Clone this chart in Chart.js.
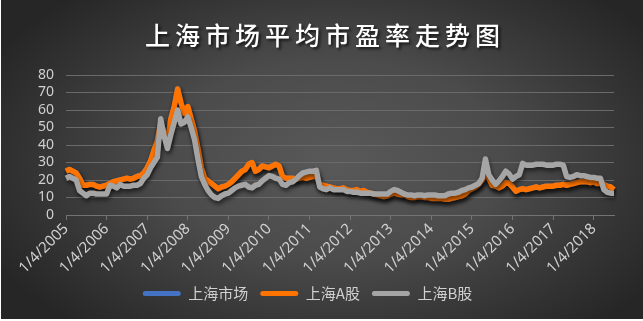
<!DOCTYPE html>
<html>
<head>
<meta charset="utf-8">
<script src="https://cdn.jsdelivr.net/npm/chart.js@4.4.1/dist/chart.umd.min.js"></script>
<style>
  html, body { margin: 0; padding: 0; background: #fff; }
  #wrap {
    position: absolute; left: 1px; top: 0; width: 642px; height: 319px;
    background: radial-gradient(ellipse 60% 70% at 52% 50%, #595959 0%, #4b4b4b 45%, #333 80%, #262626 100%);
  }
</style>
</head>
<body>
<div id="wrap"><canvas id="myChart" width="642" height="319"></canvas></div>
<script>
// year tick labels (first trading day of each year)
var yearLabels = ['1/4/2005','1/4/2006','1/4/2007','1/4/2008','1/4/2009','1/4/2010','1/4/2011',
  '1/4/2012','1/4/2013','1/4/2014','1/4/2015','1/4/2016','1/4/2017','1/4/2018'];

// monthly readings, Jan 2005 .. Jul 2018
var aSharePE = [
  25, 26, 25, 24, 21, 17, 17, 17.5, 17.5, 16.5, 16, 16.5,          // 2005
  17, 18, 19, 19.5, 20, 20.5, 21, 20.5, 21, 22, 22.5, 24,           // 2006
  27, 31, 37, 42, 53, 47, 41, 55, 62, 72, 64, 58,                   // 2007
  62, 55, 48, 38, 27, 21, 19.5, 18, 16.5, 15, 16, 16.5,             // 2008
  17.5, 19, 21, 23, 25, 26, 29, 30, 25, 26, 28, 27.5,               // 2009
  27, 28, 29, 28, 22, 21, 21, 21, 20.5, 21, 21.5, 21,               // 2010
  21.5, 22, 22.5, 17.5, 17, 16.5, 16, 15.5, 15, 15, 15.5, 14.5,     // 2011
  14, 14, 14.5, 13.5, 14, 13, 12.5, 12, 11.5, 11, 10.5, 11,         // 2012
  12, 12.5, 12, 11.5, 12, 10.5, 10, 10, 10.5, 10.5, 10, 10,         // 2013
  9.5, 9.5, 9.5, 9.5, 9, 9, 9.5, 10, 10.5, 11, 12, 14,              // 2014
  15, 16, 17.5, 20, 24, 21, 17, 16.5, 15.5, 16.5, 18.5, 18,         // 2015
  16, 13.5, 14.5, 15, 14.5, 15, 15.5, 16, 15.5, 16, 16.5, 16.5,     // 2016
  16.5, 17, 17, 17.5, 17, 17.5, 18, 18.5, 19, 19, 19, 18.5,         // 2017
  19, 18, 18, 17.5, 16.5, 16, 14.5                                  // 2018
];
var bSharePE = [
  21, 22, 21, 20, 14, 12.5, 11, 12.5, 12.5, 12, 12, 12,             // 2005
  12, 17, 16.5, 15.5, 17.5, 16.5, 16.5, 16.5, 17, 17, 18, 21,       // 2006
  23, 27, 30, 33, 55, 45, 38, 46, 53, 60, 52, 53,                   // 2007
  56, 50, 43, 32, 22, 17.5, 14, 11.5, 10, 9.5, 11, 12,              // 2008
  12.5, 14, 15.5, 16.5, 17, 17.5, 16, 15.5, 17, 17.5, 19.5, 21,     // 2009
  22.5, 22, 21, 20.5, 17.5, 17, 18.5, 19, 20.5, 22.5, 24, 24.5,     // 2010
  25, 25, 25.5, 16, 15, 14.5, 15.5, 14.5, 14.5, 14.5, 14.5, 13.5,   // 2011
  13.5, 13, 13, 12.5, 12.5, 12.5, 12.5, 12, 12, 12, 12, 12,         // 2012
  13.5, 14.5, 14, 13, 12, 11.5, 11.5, 11, 11.5, 11.5, 11, 11.5,     // 2013
  11.5, 11.5, 11, 11, 11, 12, 12.5, 12.5, 13, 14, 14.5, 15.5,       // 2014
  16, 17, 18, 21, 32, 23, 20, 17.5, 19.5, 22, 25, 23.5,             // 2015
  20.5, 22, 23, 29.5, 28.5, 28.5, 28.5, 29, 29, 29, 28.5, 28.5,     // 2016
  28.5, 29, 29, 28.5, 22, 21.5, 22, 23, 22.5, 22.5, 22, 21.5,       // 2017
  21.5, 21, 21, 14.5, 13, 12.5, 12.5                                // 2018
];
// whole-market average sits under the A-share line
var marketPE = aSharePE;

var months = [];
for (var y = 2005; y <= 2018; y++) {
  for (var m = 1; m <= 12; m++) {
    if (months.length < aSharePE.length) months.push(m + '/4/' + y);
  }
}

var shadowPlugin = {
  id: 'lineShadow',
  beforeDatasetsDraw: function(chart) {
    var ctx = chart.ctx;
    ctx.save();
    ctx.shadowColor = 'rgba(0,0,0,0.55)';
    ctx.shadowBlur = 4;
    ctx.shadowOffsetX = 1;
    ctx.shadowOffsetY = 3;
  },
  afterDatasetsDraw: function(chart) {
    chart.ctx.restore();
  }
};

var titlePlugin = {
  id: 'bigTitle',
  afterDraw: function(chart) {
    var ctx = chart.ctx;
    ctx.save();
    ctx.font = '500 25px "Noto Sans CJK SC"';
    ctx.letterSpacing = '5px';
    ctx.fillStyle = '#ffffff';
    ctx.textAlign = 'center';
    ctx.textBaseline = 'middle';
    ctx.shadowColor = 'rgba(0,0,0,0.7)';
    ctx.shadowBlur = 3;
    ctx.shadowOffsetX = 2;
    ctx.shadowOffsetY = 2;
    ctx.fillText('上海市场平均市盈率走势图', chart.width / 2 + 3, 35);
    ctx.restore();
  }
};

var ctx = document.getElementById('myChart').getContext('2d');
var chart = new Chart(ctx, {
  type: 'line',
  data: {
    labels: months,
    datasets: [{
      label: '上海市场',
      borderColor: '#4472C4',
      backgroundColor: '#4472C4',
      order: 3,
      data: marketPE
    }, {
      label: '上海A股',
      borderColor: '#FF7400',
      backgroundColor: '#FF7400',
      order: 2,
      data: aSharePE
    }, {
      label: '上海B股',
      borderColor: '#A5A5A5',
      backgroundColor: '#A5A5A5',
      order: 1,
      data: bSharePE
    }]
  },
  plugins: [shadowPlugin, titlePlugin],
  options: {
    responsive: false,
    animation: false,
    devicePixelRatio: 1,
    layout: { padding: { top: 75, right: 29, bottom: 8, left: 0 } },
    elements: {
      point: { radius: 0 },
      line: { borderWidth: 5.5, tension: 0, borderJoinStyle: 'round' }
    },
    scales: {
      x: {
        grid: { drawOnChartArea: false, color: '#737373', tickLength: 5 },
        border: { color: '#737373' },
        ticks: {
          autoSkip: false,
          maxRotation: 45,
          minRotation: 45,
          color: '#d0d0d0',
          font: { family: 'Noto Sans', size: 15 },
          padding: 0,
          callback: function(val, i) {
            return i % 12 === 0 ? yearLabels[i / 12] : null;
          }
        },
        afterFit: function(scale) { scale.height = 59; }
      },
      y: {
        min: 0,
        max: 80,
        ticks: {
          stepSize: 10,
          autoSkip: false,
          color: '#d0d0d0',
          font: { family: 'Noto Sans', size: 14 },
          padding: 12
        },
        grid: { color: '#6a6a6a', drawTicks: false },
        border: { display: false },
        afterFit: function(scale) { scale.width = 65; }
      }
    },
    plugins: {
      title: { display: false },
      tooltip: { enabled: false },
      legend: {
        position: 'bottom',
        labels: {
          color: '#d0d0d0',
          font: { family: 'Noto Sans CJK SC', size: 15 },
          boxWidth: 38,
          boxHeight: 5,
          padding: 12,
          useBorderRadius: true,
          borderRadius: 2.5,
          generateLabels: function(c) {
            return c.data.datasets.map(function(ds, i) {
              return {
                text: ds.label,
                fillStyle: ds.borderColor,
                strokeStyle: ds.borderColor,
                lineWidth: 0,
                fontColor: '#d0d0d0',
                borderRadius: 2.5,
                datasetIndex: i
              };
            });
          }
        }
      }
    }
  }
});
</script>
</body>
</html>
